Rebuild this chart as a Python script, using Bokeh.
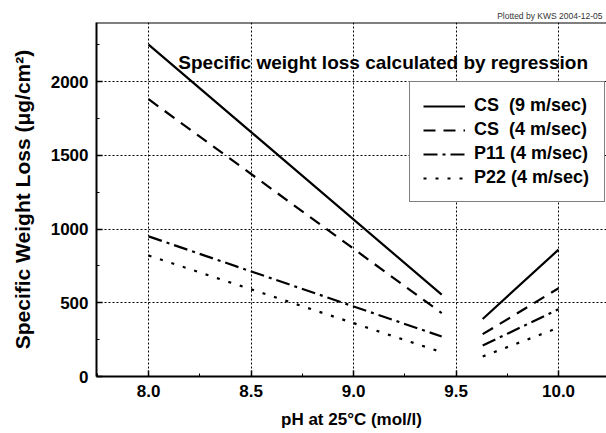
from bokeh.plotting import figure
from bokeh.models import (Range1d, LinearAxis, SingleIntervalTicker, Label, Span,
                          Legend, LegendItem, NumeralTickFormatter)
from bokeh.embed import file_html
from bokeh.resources import INLINE
import numpy as np

# pH values at the ends of the two regression ranges
ph_low = [8.0, 9.43]
ph_high = [9.63, 10.0]

# specific weight loss (ug/cm2) at those pH values
cs9_low, cs9_high = [2250, 555], [390, 860]
cs4_low, cs4_high = [1880, 430], [287, 598]
p11_low, p11_high = [950, 271], [210, 456]
p22_low, p22_high = [820, 165], [136, 331]

series_names = ["CS  (9 m/sec)", "CS  (4 m/sec)", "P11 (4 m/sec)", "P22 (4 m/sec)"]
series_low = [cs9_low, cs4_low, p11_low, p22_low]
series_high = [cs9_high, cs4_high, p11_high, p22_high]
dashes = ["solid", "12 8", "14 5 3 5", "3 9"]

FONT = "Liberation Sans"

p = figure(width=606, height=433, output_backend="svg", toolbar_location=None,
           x_range=Range1d(7.746, 10.234), y_range=Range1d(0, 2400),
           x_axis_location=None, y_axis_location=None)
p.min_border_left = 96
p.min_border_right = 0
p.min_border_top = 22
p.min_border_bottom = 57
p.outline_line_color = None
p.background_fill_color = "white"
p.border_fill_color = "white"

# small credit line above the frame, right aligned
p.title.text = "Plotted by KWS 2004-12-05"
p.title.align = "right"
p.title.text_font = FONT
p.title.text_font_size = "8.5px"
p.title.text_font_style = "normal"
p.title.text_color = "#333333"
p.title.standoff = 4
p.title.offset = 4

xt = SingleIntervalTicker(interval=0.5, num_minor_ticks=2)
yt = SingleIntervalTicker(interval=500, num_minor_ticks=2)


def style_axis(ax):
    ax.axis_line_color = "black"
    ax.axis_line_width = 2
    ax.major_tick_in = 6
    ax.major_tick_out = 0
    ax.minor_tick_in = 3
    ax.minor_tick_out = 0
    ax.major_tick_line_color = "black"
    ax.minor_tick_line_color = "black"
    ax.major_tick_line_width = 1.5
    ax.major_label_text_font = FONT
    ax.major_label_text_font_style = "bold"
    ax.major_label_text_font_size = "17px"
    ax.major_label_text_color = "black"
    ax.axis_label_text_font = FONT
    ax.axis_label_text_font_style = "bold"
    ax.axis_label_text_font_size = "17px"
    ax.axis_label_text_color = "black"


xaxis = LinearAxis(ticker=xt, formatter=NumeralTickFormatter(format="0.0"),
                   axis_label="pH at 25°C (mol/l)")
style_axis(xaxis)
xaxis.major_label_standoff = 8
xaxis.axis_label_standoff = 10
p.add_layout(xaxis, "below")

yaxis = LinearAxis(ticker=yt, axis_label="Specific Weight Loss (μg/cm²)")
style_axis(yaxis)
yaxis.axis_label_text_font_size = "21px"
yaxis.major_label_standoff = 8
yaxis.axis_label_standoff = 14
p.add_layout(yaxis, "left")

# top edge of the frame
p.add_layout(Span(location=2400, dimension="width", line_color="black", line_width=2))

p.xgrid.ticker = xt
p.ygrid.ticker = yt
for g in (p.xgrid, p.ygrid):
    g.grid_line_color = "black"
    g.grid_line_dash = "2 2"
    g.grid_line_width = 1

items = []
for name, lo, hi, dash in zip(series_names, series_low, series_high, dashes):
    xs = ph_low + [np.nan] + ph_high
    ys = lo + [np.nan] + hi
    r = p.line(xs, ys, line_color="black", line_width=2.2, line_dash=dash)
    items.append(LegendItem(label=name, renderers=[r]))

legend = Legend(items=items, location=(313, 174))
legend.label_text_font = FONT
legend.label_text_font_style = "bold"
legend.label_text_font_size = "18px"
legend.label_text_color = "black"
legend.glyph_width = 42
legend.glyph_height = 20
legend.spacing = 3
legend.padding = 13
legend.label_standoff = 9
legend.label_height = 20
legend.label_width = 117
legend.border_line_color = "black"
legend.border_line_width = 1.5
legend.background_fill_color = "white"
legend.background_fill_alpha = 1
p.add_layout(legend, "center")

p.add_layout(Label(x=8.145, y=2130, text="Specific weight loss calculated by regression",
                   text_font=FONT, text_font_style="bold", text_font_size="19px",
                   text_color="black", text_baseline="middle", text_align="left"))

open("out.html", "w").write(file_html(p, INLINE))
